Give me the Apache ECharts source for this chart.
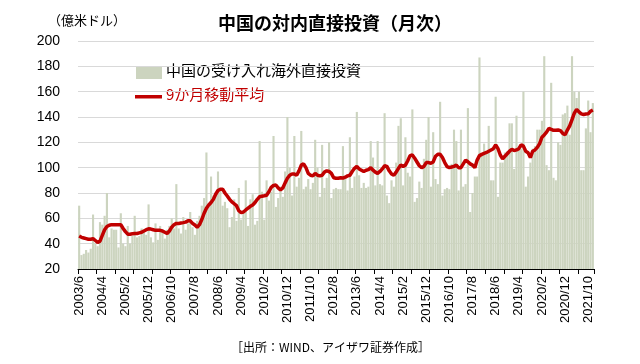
<!DOCTYPE html>
<html><head><meta charset="utf-8">
<script src="https://cdn.jsdelivr.net/npm/echarts@6/dist/echarts.min.js"></script>
<style>html,body{margin:0;padding:0;background:#fff}#c{width:640px;height:364px}</style>
</head><body><div id="c"></div>
<script>
// monthly FDI (100 million USD), 2003/6 .. 2021/12
const fdi2003 = [70,31,32,35,33,36,63];
const fdi2004 = [40,38,57,55,62,80,45,52,51,51,37,64];
const fdi2005 = [40,38,54,40,46,62,45,46,52,49,47,71];
const fdi2006 = [45,41,56,43,54,51,44,51,54,60,52,87];
const fdi2007 = [52,48,61,51,56,65,53,47,58,62,70,76];
const fdi2008 = [112,69,93,78,78,97,83,70,73,68,53,61];
const fdi2009 = [75,58,84,59,64,90,54,75,79,55,58,121];
const fdi2010 = [81,59,90,74,81,125,69,76,85,77,97,140];
const fdi2011 = [100,78,125,85,92,129,83,85,91,83,88,122];
const fdi2012 = [100,77,118,84,92,120,76,83,84,83,83,117];
const fdi2013 = [93,82,124,84,93,144,94,84,88,84,85,121];
const fdi2014 = [108,86,121,87,86,143,78,72,90,85,104,133];
const fdi2015 = [139,86,124,96,93,146,73,76,89,84,107,122];
const fdi2016 = [140,85,128,91,87,152,78,83,84,83,103,130];
const fdi2017 = [121,82,130,85,87,147,65,80,93,93,187,111];
const fdi2018 = [119,113,133,90,90,156,77,104,104,112,113,135];
const fdi2019 = [135,99,141,115,115,160,85,93,104,115,117,130];
const fdi2020 = [130,137,188,102,98,167,92,90,120,118,142,143];
const fdi2021 = [149,126,188,160,155,160,98,98,131,153,128,151];

// 9-month moving average
const ma2003 = [46,45,44.5,44,43.5,43.5,44];
const ma2004 = [42.5,41,42,46.5,51,53.5,54.5,55,55,55,55,55];
const ma2005 = [52,49.5,47.5,47.5,47.8,48,48,48.5,49,50,51,51.7];
const ma2006 = [51.5,51,50.5,50.5,50.5,50,49,48,50,53,55,56];
const ma2007 = [56,56.3,56.6,57,58,58,56,54.7,53,55,59,64];
const ma2008 = [68,70.5,72.5,75,79,82,83,83,80,77.6,75,73];
const ma2009 = [71.5,70,66,64.5,65,66.6,68,69.5,70.5,72.5,75,77];
const ma2010 = [77.5,77.8,78.2,81,84.5,86,86.3,84,82.4,84,88,91.6];
const ma2011 = [94,95,95,94,97.5,102,103,100,95.5,94,93.5,95.5];
const ma2012 = [94,93.5,94,96.5,97.5,97,95.5,92,91.6,91.6,92,91.8];
const ma2013 = [92.5,93.5,94,97,99.5,101,99,98,97,98,98.5,100];
const ma2014 = [98,96.5,95.5,97,99,101.5,101,97.5,95,94,96.5,99.5];
const ma2015 = [102,101,102,105.5,109.5,110,107.5,104.5,101.5,100,101,104];
const ma2016 = [104,103.5,104.5,109,110.5,110.5,108,104,100.8,100,100.5,101];
const ma2017 = [102,100,100,103,106,104.7,103,102,100,106,109.5,110.5];
const ma2018 = [111.3,112,113,114,115,118,115,110,107,109,111,113];
const ma2019 = [114.5,113.5,114,115,118,117,113,111.8,108,113,114,116];
const ma2020 = [119,124,125.8,128,131,130.3,129.5,129.5,129.7,129.2,127,126];
const ma2021 = [129.7,133,138,143,146,144,142.5,142,142.4,142.5,144.5,145.5];

const yTicks = [20,40,60,80,100,120,140,160,180,200];
const startYear = 2003, startMonth = 6;
const barName = '中国の受け入れ海外直接投資';
const lineName = '9か月移動平均';

const fdi = [].concat(fdi2003,fdi2004,fdi2005,fdi2006,fdi2007,fdi2008,fdi2009,fdi2010,fdi2011,fdi2012,fdi2013,fdi2014,fdi2015,fdi2016,fdi2017,fdi2018,fdi2019,fdi2020,fdi2021);
const ma = [].concat(ma2003,ma2004,ma2005,ma2006,ma2007,ma2008,ma2009,ma2010,ma2011,ma2012,ma2013,ma2014,ma2015,ma2016,ma2017,ma2018,ma2019,ma2020,ma2021);
const months = fdi.map((_, i) => {
  const t = startMonth - 1 + i;
  return (startYear + Math.floor(t / 12)) + '/' + (t % 12 + 1);
});

const FONT = '"Liberation Sans","Noto Sans CJK JP",sans-serif';
const JP = '"Noto Sans CJK JP",sans-serif';
const BAR_COLOR = '#ccd4bf', LINE_COLOR = '#c00000';
const chart = echarts.init(document.getElementById('c'), null, {renderer:'canvas'});
chart.setOption({
  animation: false,
  textStyle: {fontFamily: FONT},
  title: {
    text: '中国の対内直接投資（月次）', left: 213, top: 9,
    textStyle: {fontSize: 18, fontWeight: 'bold', color: '#000', fontFamily: JP}
  },
  graphic: [
    {type:'text', left: 48, top: 14, style:{text:'（億米ドル）', fontSize:13, fill:'#000', fontFamily:JP}},
    {type:'text', left: 231, top: 341, style:{text:'［出所：WIND、アイザワ証券作成］', fontSize:12, fill:'#000', fontFamily:JP}},
    // legend
    {type:'rect', left: 136, top: 66, shape:{width:26, height:13}, style:{fill: BAR_COLOR}},
    {type:'text', left: 166, top: 63, style:{text: barName, fontSize:15, fill:'#000', fontFamily:JP}},
    {type:'rect', left: 135, top: 95, shape:{width:27, height:3.5}, style:{fill: LINE_COLOR}},
    {type:'text', left: 166, top: 87, style:{text: lineName, fontSize:15, fill: LINE_COLOR, fontFamily:JP}}
  ],
  grid: {left: 78, right: 46, top: 41, bottom: 95},
  xAxis: {
    type: 'category', data: months, boundaryGap: true,
    axisLine: {lineStyle: {color: '#000', width: 1}},
    axisTick: {show: true, interval: 7, length: 5, lineStyle: {color: '#000'}},
    axisLabel: {interval: 9, rotate: 90, fontSize: 13, color: '#000', margin: 7, fontFamily: FONT}
  },
  yAxis: {
    type: 'value', min: yTicks[0], max: yTicks[yTicks.length-1], interval: 20,
    axisLine: {show: false}, axisTick: {show: false},
    axisLabel: {fontSize: 14, color: '#000', margin: 18, fontFamily: FONT},
    splitLine: {lineStyle: {color: '#d9d9d9', width: 1}}
  },
  series: [
    {name: barName, type: 'bar', data: fdi, barCategoryGap: '8%',
     itemStyle: {color: BAR_COLOR}},
    {name: lineName, type: 'line', data: ma, symbol: 'none', smooth: false,
     lineStyle: {color: LINE_COLOR, width: 3.5}, itemStyle: {color: LINE_COLOR}}
  ]
});
</script></body></html>
